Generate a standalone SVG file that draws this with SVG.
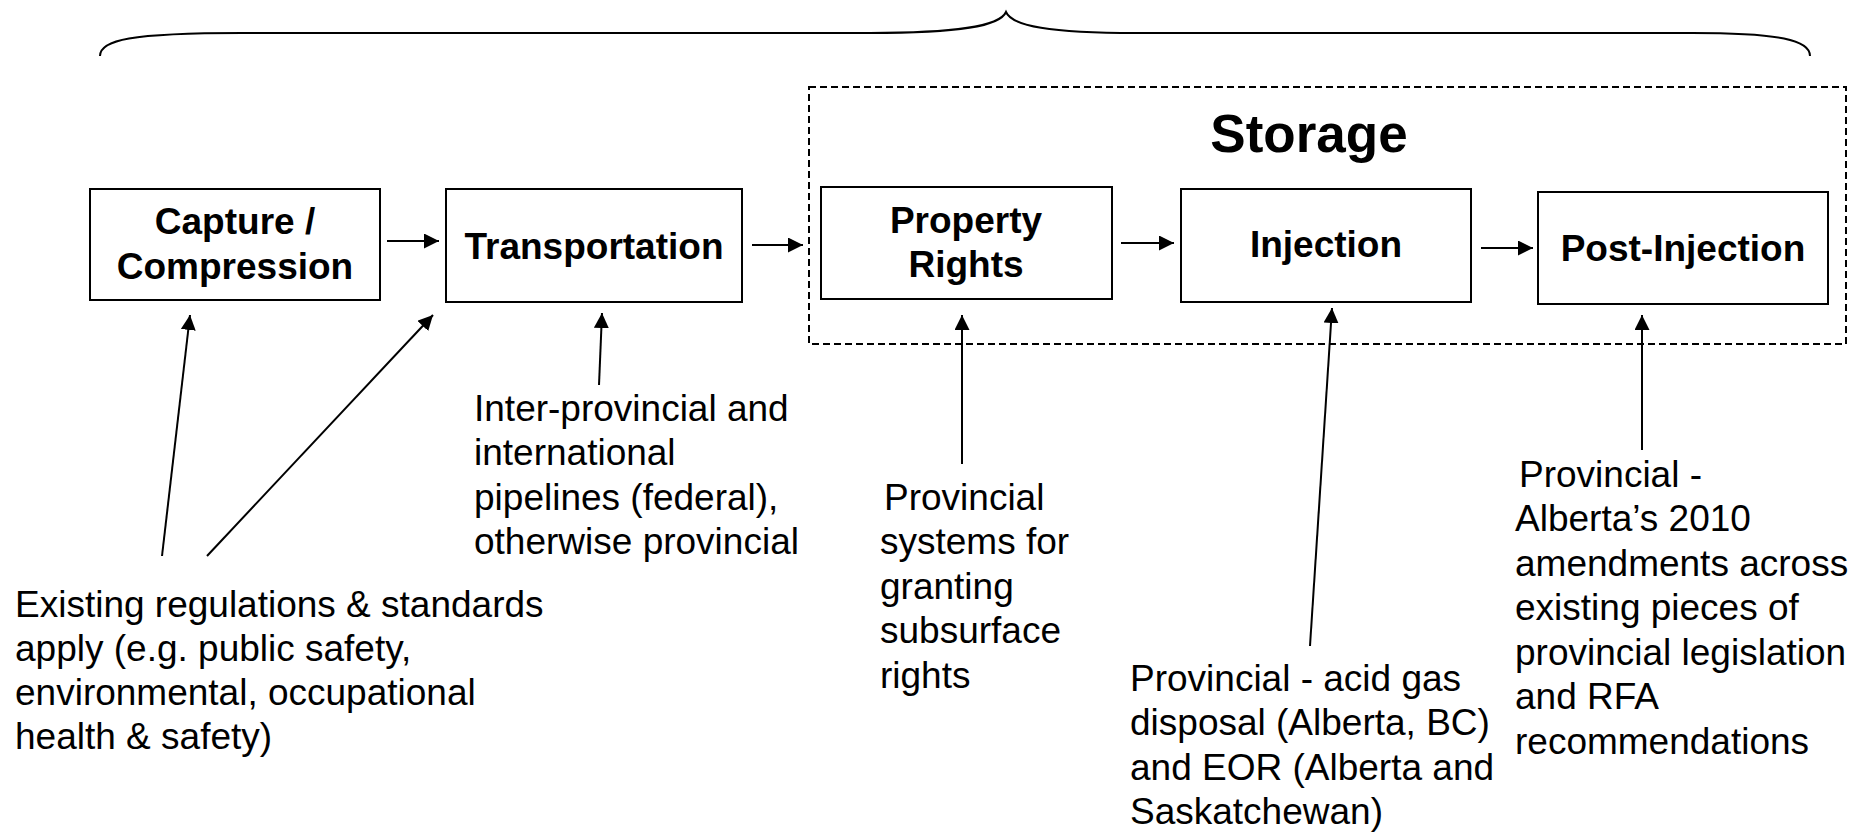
<svg xmlns="http://www.w3.org/2000/svg" width="1855" height="832" viewBox="0 0 1855 832">
<defs>
<marker id="ah" viewBox="0 0 10 10" refX="10" refY="5" markerWidth="7.5" markerHeight="7.5" markerUnits="strokeWidth" orient="auto">
<path d="M0,0 L10,5 L0,10 z" fill="#000"/>
</marker>
<style>
.box{fill:#fff;stroke:#000;stroke-width:2}
.lbl{font-family:"Liberation Sans",Arial,sans-serif;font-weight:bold;font-size:37px;text-anchor:middle;fill:#000}
.txt{font-family:"Liberation Sans",Arial,sans-serif;font-size:37px;fill:#000}
.con{stroke:#000;stroke-width:2;fill:none;marker-end:url(#ah)}
</style>
</defs>
<rect width="1855" height="832" fill="#fff"/>
<path d="M100,56 C100,40 130,33 242,33 L870,33 C960,33 1000,26 1006,12 C1012,26 1050,33 1136,33 L1692,33 C1780,33 1810,40 1810,56" fill="none" stroke="#000" stroke-width="2"/>
<g id="storage">
<rect x="809" y="87" width="1037" height="257" fill="none" stroke="#000" stroke-width="2" stroke-dasharray="7,4"/>
<text class="lbl" x="1309" y="152" style="font-size:53px">Storage</text>
</g>
<g id="capture">
<rect class="box" x="90" y="189" width="290" height="111"/>
<text class="lbl" x="235" y="234">Capture /</text>
<text class="lbl" x="235" y="279">Compression</text>
</g>
<g id="transportation">
<rect class="box" x="446" y="189" width="296" height="113"/>
<text class="lbl" x="594" y="259">Transportation</text>
</g>
<g id="property">
<rect class="box" x="821" y="187" width="291" height="112"/>
<text class="lbl" x="966" y="233">Property</text>
<text class="lbl" x="966" y="277">Rights</text>
</g>
<g id="injection">
<rect class="box" x="1181" y="189" width="290" height="113"/>
<text class="lbl" x="1326" y="257">Injection</text>
</g>
<g id="postinjection">
<rect class="box" x="1538" y="192" width="290" height="112"/>
<text class="lbl" x="1683" y="261">Post-Injection</text>
</g>
<g id="note-existing">
<text class="txt" x="15" y="617">Existing regulations &amp; standards</text>
<text class="txt" x="15" y="661">apply (e.g. public safety,</text>
<text class="txt" x="15" y="705">environmental, occupational</text>
<text class="txt" x="15" y="749">health &amp; safety)</text>
</g>
<g id="note-transport">
<text class="txt" x="474" y="421">Inter-provincial and</text>
<text class="txt" x="474" y="465">international</text>
<text class="txt" x="474" y="510">pipelines (federal),</text>
<text class="txt" x="474" y="554">otherwise provincial</text>
</g>
<g id="note-property">
<text class="txt" x="884" y="510">Provincial</text>
<text class="txt" x="880" y="554">systems for</text>
<text class="txt" x="880" y="599">granting</text>
<text class="txt" x="880" y="643">subsurface</text>
<text class="txt" x="880" y="688">rights</text>
</g>
<g id="note-injection">
<text class="txt" x="1130" y="691">Provincial - acid gas</text>
<text class="txt" x="1130" y="735">disposal (Alberta, BC)</text>
<text class="txt" x="1130" y="780">and EOR (Alberta and</text>
<text class="txt" x="1130" y="824">Saskatchewan)</text>
</g>
<g id="note-post">
<text class="txt" x="1519" y="487">Provincial -</text>
<text class="txt" x="1515" y="531">Alberta’s 2010</text>
<text class="txt" x="1515" y="576">amendments across</text>
<text class="txt" x="1515" y="620">existing pieces of</text>
<text class="txt" x="1515" y="665">provincial legislation</text>
<text class="txt" x="1515" y="709">and RFA</text>
<text class="txt" x="1515" y="754">recommendations</text>
</g>
<g id="connectors">
<line class="con" x1="387" y1="241" x2="439" y2="241"/>
<line class="con" x1="752" y1="245" x2="803" y2="245"/>
<line class="con" x1="1121" y1="243" x2="1174" y2="243"/>
<line class="con" x1="1481" y1="248" x2="1533" y2="248"/>
<line class="con" x1="162" y1="556" x2="190" y2="315"/>
<line class="con" x1="207" y1="556" x2="433" y2="315"/>
<line class="con" x1="599" y1="385" x2="602" y2="313"/>
<line class="con" x1="962" y1="464" x2="962" y2="315"/>
<line class="con" x1="1310" y1="646" x2="1332" y2="308"/>
<line class="con" x1="1642" y1="450" x2="1642" y2="315"/>
</g>
</svg>
